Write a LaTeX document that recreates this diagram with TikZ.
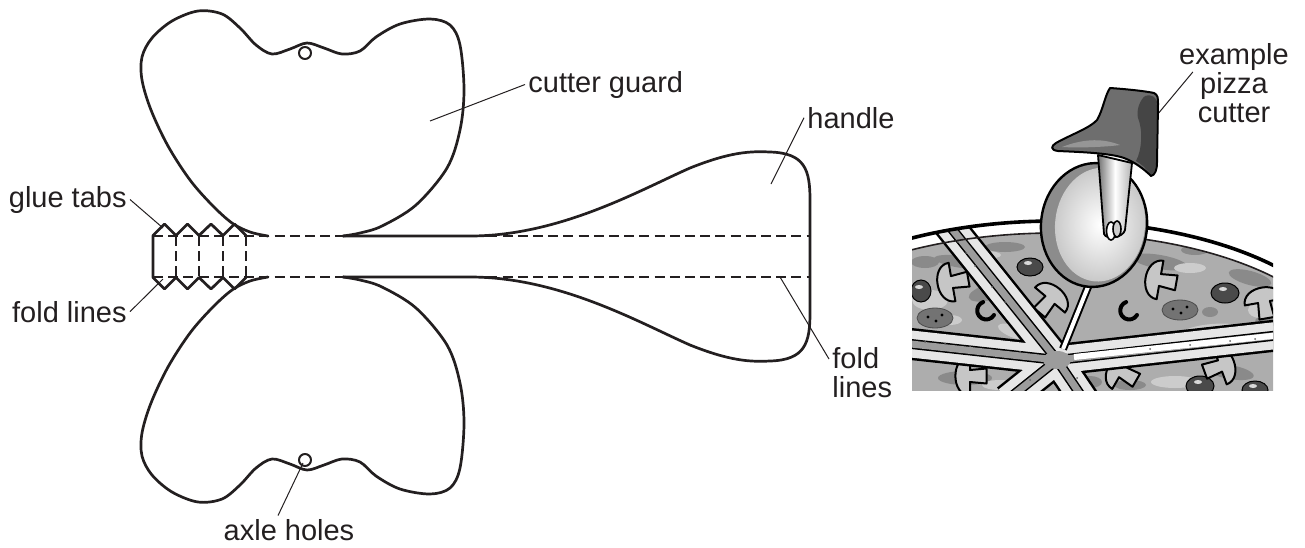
\documentclass[tikz,border=0pt]{standalone}
\usepackage{fontspec}
\setmainfont{Liberation Sans}
\usetikzlibrary{calc}
\definecolor{ink}{HTML}{231F20}
\definecolor{pzbase}{HTML}{ADADAD}
\definecolor{pzdark}{HTML}{8A8A8A}
\definecolor{pzlight}{HTML}{CCCCCC}
\definecolor{crust}{HTML}{E6E6E6}
\definecolor{gapc}{HTML}{9C9C9C}
\definecolor{olivec}{HTML}{4A4A4A}
\definecolor{handlec}{HTML}{6E6E6E}
\definecolor{handledk}{HTML}{454545}
\definecolor{handlelt}{HTML}{969696}
\begin{document}
\begin{tikzpicture}[x=0.5pt,y=-0.5pt,
  outline/.style={draw=ink, line width=1.35pt, line join=round, line cap=round},
  foldline/.style={draw=ink, line width=0.7pt, dash pattern=on 5pt off 2.6pt},
  leaderline/.style={draw=ink, line width=0.5pt},
  lbl/.style={font=\fontsize{14.5pt}{14.5pt}\selectfont, text=ink, inner sep=1.5pt},
  olive/.style={fill=olivec, draw=black, line width=0.5pt},
  mush/.pic={\filldraw[fill=pzbase!70!white, draw=black, line width=1pt, line join=round]
      (-13,0) .. controls (-13,-13) and (13,-13) .. (13,0) -- (4,0) -- (5,11) -- (-5,11) -- (-4,0) -- cycle;},
]
\useasboundingbox (0,0) rectangle (1305,547);

% ---------- cutter guards (upper one and its mirror image) ----------
\foreach \s in {1,-1}{
  \begin{scope}[shift={(0,256.5-256.5*\s)}, yscale=\s]
    \draw[outline] plot[smooth, tension=0.55] coordinates {
      (268,236) (250,232) (232,223) (212,205) (190,180) (168,146) (151,110)
      (142,80) (142,57) (152,38) (172,21) (198,11) (222,14) (240,28) (256,45)
      (272,54) (290,49) (307,43) (324,48) (342,54) (360,51) (376,37) (400,24)
      (430,19) (450,25) (460,45) (464,90) (460,130) (447,168) (416,205)
      (382,226) (360,233) (343,236)};
    \draw[outline, line width=1pt] (305,53) circle [radius=6];
  \end{scope}
}

% ---------- handle ----------
\draw[outline] (343,236) -- (470,236)
  .. controls (560,236) and (640,190) .. (690,168)
  .. controls (730,152) and (750,151) .. (770,152)
  .. controls (805,153) and (810,170) .. (810,200)
  -- (810,313)
  .. controls (810,343) and (805,360) .. (770,361)
  .. controls (750,362) and (730,361) .. (690,345)
  .. controls (640,323) and (560,277) .. (470,277)
  -- (343,277);

% ---------- glue tabs ----------
\draw[outline] (246,235.5) -- (234.5,224) -- (223,235.5) -- (211,224) -- (199,235.5)
  -- (187.5,224) -- (176,235.5) -- (164.5,224) -- (153,235.5) -- (153,277.5)
  -- (164.5,289) -- (176,277.5) -- (187.5,289) -- (199,277.5) -- (211,289)
  -- (223,277.5) -- (234.5,289) -- (246,277.5);

% ---------- fold lines ----------
\draw[foldline] (153,236) -- (810,236);
\draw[foldline] (153,277) -- (810,277);
\foreach \x in {176,199,223,246}{\draw[foldline] (\x,236) -- (\x,277);}

% ---------- labels ----------
\node[lbl, anchor=base east] (gluetabs) at (130,207) {glue tabs};
\node[lbl, anchor=base east] (foldleft) at (130,322) {fold lines};
\node[lbl, anchor=base west] (guardlbl) at (525,92) {cutter guard};
\node[lbl, anchor=base west] (handlelbl) at (804,128) {handle};
\node[lbl, anchor=north west, align=left] (foldright) at (829,344) {fold\\lines};
\node[lbl, anchor=base] (axlelbl) at (289,540) {axle holes};
\node[lbl, anchor=north, align=center] (pizzalbl) at (1234,40) {example\\pizza\\cutter};

\coordinate (tabtop) at (163,228);
\coordinate (tabbot) at (163,279);
\coordinate (guardpt) at (430,121);
\coordinate (handlept) at (771,184);
\coordinate (foldpt) at (780,277);
\coordinate (axlept) at (303,463);
\coordinate (cutterpt) at (1157,115);

\draw[leaderline] (gluetabs.east) -- (tabtop);
\draw[leaderline] (foldleft.east) -- (tabbot);
\draw[leaderline] (guardpt) -- (guardlbl.west);
\draw[leaderline] (handlept) -- (handlelbl.west);
\draw[leaderline] (foldpt) -- ([yshift=-7.5pt]foldright.north west);
\draw[leaderline] (axlept) -- ([xshift=-5.5pt]axlelbl.north);
\draw[leaderline] (cutterpt) -- ([xshift=8.5pt,yshift=-16pt]pizzalbl.north west);

% ---------- pizza ----------
\begin{scope}
  \clip (912,150) rectangle (1273,390);
  \fill[white] (1055,362) ellipse [x radius=300, y radius=141];
  \begin{scope}
    \clip (1055,366) ellipse [x radius=294, y radius=133];
    \fill[pzbase] (1055,366) ellipse [x radius=294, y radius=133];
    % sauce and cheese mottling
    \foreach \px/\py/\rx/\ry/\ang in {962/262/28/6/-8, 1005/247/20/5/0, 990/292/22/8/15,
        935/345/24/6/5, 1160/262/28/7/-10, 1250/278/22/7/-15, 1150/342/20/6/10,
        1245/342/18/7/0, 965/378/27/7/0, 1230/372/24/7/-10, 1130/385/16/5/0,
        1035/320/14/6/30, 1195/250/14/5/0, 925/262/14/6/0, 1265/322/10/7/0,
        1090/382/12/6/0, 1210/312/8/5/0}{
      \fill[pzdark, rotate around={\ang:(\px,\py)}] (\px,\py) ellipse [x radius=\rx, y radius=\ry];
    }
    \foreach \px/\py/\rx/\ry/\ang in {930/300/18/10/0, 1015/332/18/6/-20, 1190/268/16/5/0,
        1212/330/28/6/5, 1175/382/24/6/0, 950/320/12/5/0, 1260/310/12/8/0, 1120/255/14/5/0,
        985/255/16/4/0, 1240/258/20/4/-10, 1000/385/18/5/0}{
      \fill[pzlight, rotate around={\ang:(\px,\py)}] (\px,\py) ellipse [x radius=\rx, y radius=\ry];
    }
    % pepperoni
    \foreach \px/\py in {935/318, 1180/310}{
      \filldraw[fill=black!55, draw=black!70, line width=0.4pt] (\px,\py) ellipse [x radius=18, y radius=10];
      \fill[black] (\px-7,\py-1) circle [radius=1.6] (\px+1,\py+3) circle [radius=1.6] (\px+7,\py-3) circle [radius=1.6];
    }
    % olives
    \foreach \px/\py/\rx/\ry in {1030/267/13/9, 1225/293/14/10, 1200/386/14/10, 921/291/10/11, 1255/390/13/9}{
      \filldraw[olive] (\px,\py) ellipse [x radius=\rx, y radius=\ry];
      \fill[white!85!black] (\px-2,\py-4) ellipse [x radius=4, y radius=2];
    }
    % mushrooms
    \pic[rotate=100, scale=1.5] at (952,282) {mush};
    \pic[rotate=-40, scale=1.5] at (1050,300) {mush};
    \pic[rotate=80, scale=1.5] at (1160,280) {mush};
    \pic[rotate=-70, scale=1.5] at (1220,366) {mush};
    \pic[rotate=60, scale=1.5] at (1122,372) {mush};
    \pic[rotate=90, scale=1.5] at (970,376) {mush};
    \pic[rotate=10, scale=1.5] at (1264,302) {mush};
    % sliced mushroom pieces
    \foreach \px/\py in {985/310, 1128/310}{
      \draw[black, line width=2pt, line cap=round] (\px+9,\py+5) arc[start angle=30, end angle=250, radius=9];
    }
  \end{scope}
  % cuts between the slices, each edged with crust
  \begin{scope}
    \clip (1055,362) ellipse [x radius=300, y radius=141];
    \foreach \w/\col in {16pt/black, 13.5pt/crust, 5pt/black, 3.5pt/gapc}{
      \foreach \ex/\ey in {948/224, 902/343, 1007/400, 1084/400, 1290/334}{
        \draw[line width=\w, draw=\col] (1057,360) -- (\ex,\ey);
      }
    }
    \draw[line width=3pt, white] (1074,357) -- (1290,334);
    \draw[line width=4pt, black] (1063,349) -- (1098,262);
    \draw[line width=2pt, white] (1063,349) -- (1098,262);
    \fill[gapc] (1057,360) ellipse [x radius=14, y radius=9];
    % crust crumbs
    \foreach \px/\py in {958/242, 966/253, 975/266, 992/287, 1005/302, 925/342, 945/344,
        970/346, 1020/352, 1150/349, 1190/345, 1230/341, 1255/339, 1030/380, 1077/378}{
      \fill[black!60] (\px,\py) circle [radius=1];
    }
  \end{scope}
  \draw[ink, line width=0.8pt] (1055,366) ellipse [x radius=294, y radius=133];
  \draw[black, line width=1.8pt] (1055,362) ellipse [x radius=300, y radius=141];
\end{scope}

% ---------- cutter wheel ----------
\begin{scope}[shift={(1094,225)}, rotate=-6]
  \filldraw[fill=black!45, draw=black, line width=1.2pt] (0,0) ellipse [x radius=53, y radius=62];
  \shade[inner color=white, outer color=black!22] (6,-1) ellipse [x radius=45, y radius=57];
\end{scope}

% arm holding the wheel
\shadedraw[left color=black!55, right color=black!30, middle color=white, draw=black, line width=0.9pt, line join=round]
  (1098,155) -- (1132,163) -- (1125,230) .. controls (1123,238) and (1106,240) .. (1104,234) -- cycle;
\filldraw[fill=white, draw=black, line width=0.8pt] (1111,231) ellipse [x radius=4.5, y radius=9];
\filldraw[fill=black!20, draw=black, line width=0.8pt] (1117,229) ellipse [x radius=4, y radius=8];

% grip
\fill[handlec]
  (1110,88) .. controls (1125,89) and (1145,91) .. (1154,93)
  .. controls (1158,95) and (1158,98) .. (1158,104)
  -- (1157,162) .. controls (1157,170) and (1155,175) .. (1151,176)
  .. controls (1145,170) and (1135,162) .. (1124,158)
  .. controls (1110,153) and (1080,152) .. (1058,151)
  .. controls (1050,150) and (1051,146) .. (1056,143)
  .. controls (1070,135) and (1090,128) .. (1097,120)
  .. controls (1103,110) and (1105,95) .. (1110,88) -- cycle;
\fill[handledk] (1145,96) .. controls (1152,94) and (1157,97) .. (1157,104) -- (1156,162)
  .. controls (1156,169) and (1154,173) .. (1151,175)
  .. controls (1146,168) and (1141,164) .. (1136,161)
  .. controls (1142,150) and (1143,130) .. (1138,118)
  .. controls (1136,110) and (1140,100) .. (1145,96) -- cycle;
\fill[handlelt] (1062,147) .. controls (1080,140) and (1100,137) .. (1120,145)
  .. controls (1105,147) and (1080,148) .. (1062,147) -- cycle;
\draw[black, line width=1pt, line join=round]
  (1110,88) .. controls (1125,89) and (1145,91) .. (1154,93)
  .. controls (1158,95) and (1158,98) .. (1158,104)
  -- (1157,162) .. controls (1157,170) and (1155,175) .. (1151,176)
  .. controls (1145,170) and (1135,162) .. (1124,158)
  .. controls (1110,153) and (1080,152) .. (1058,151)
  .. controls (1050,150) and (1051,146) .. (1056,143)
  .. controls (1070,135) and (1090,128) .. (1097,120)
  .. controls (1103,110) and (1105,95) .. (1110,88) -- cycle;
\end{tikzpicture}
\end{document}
